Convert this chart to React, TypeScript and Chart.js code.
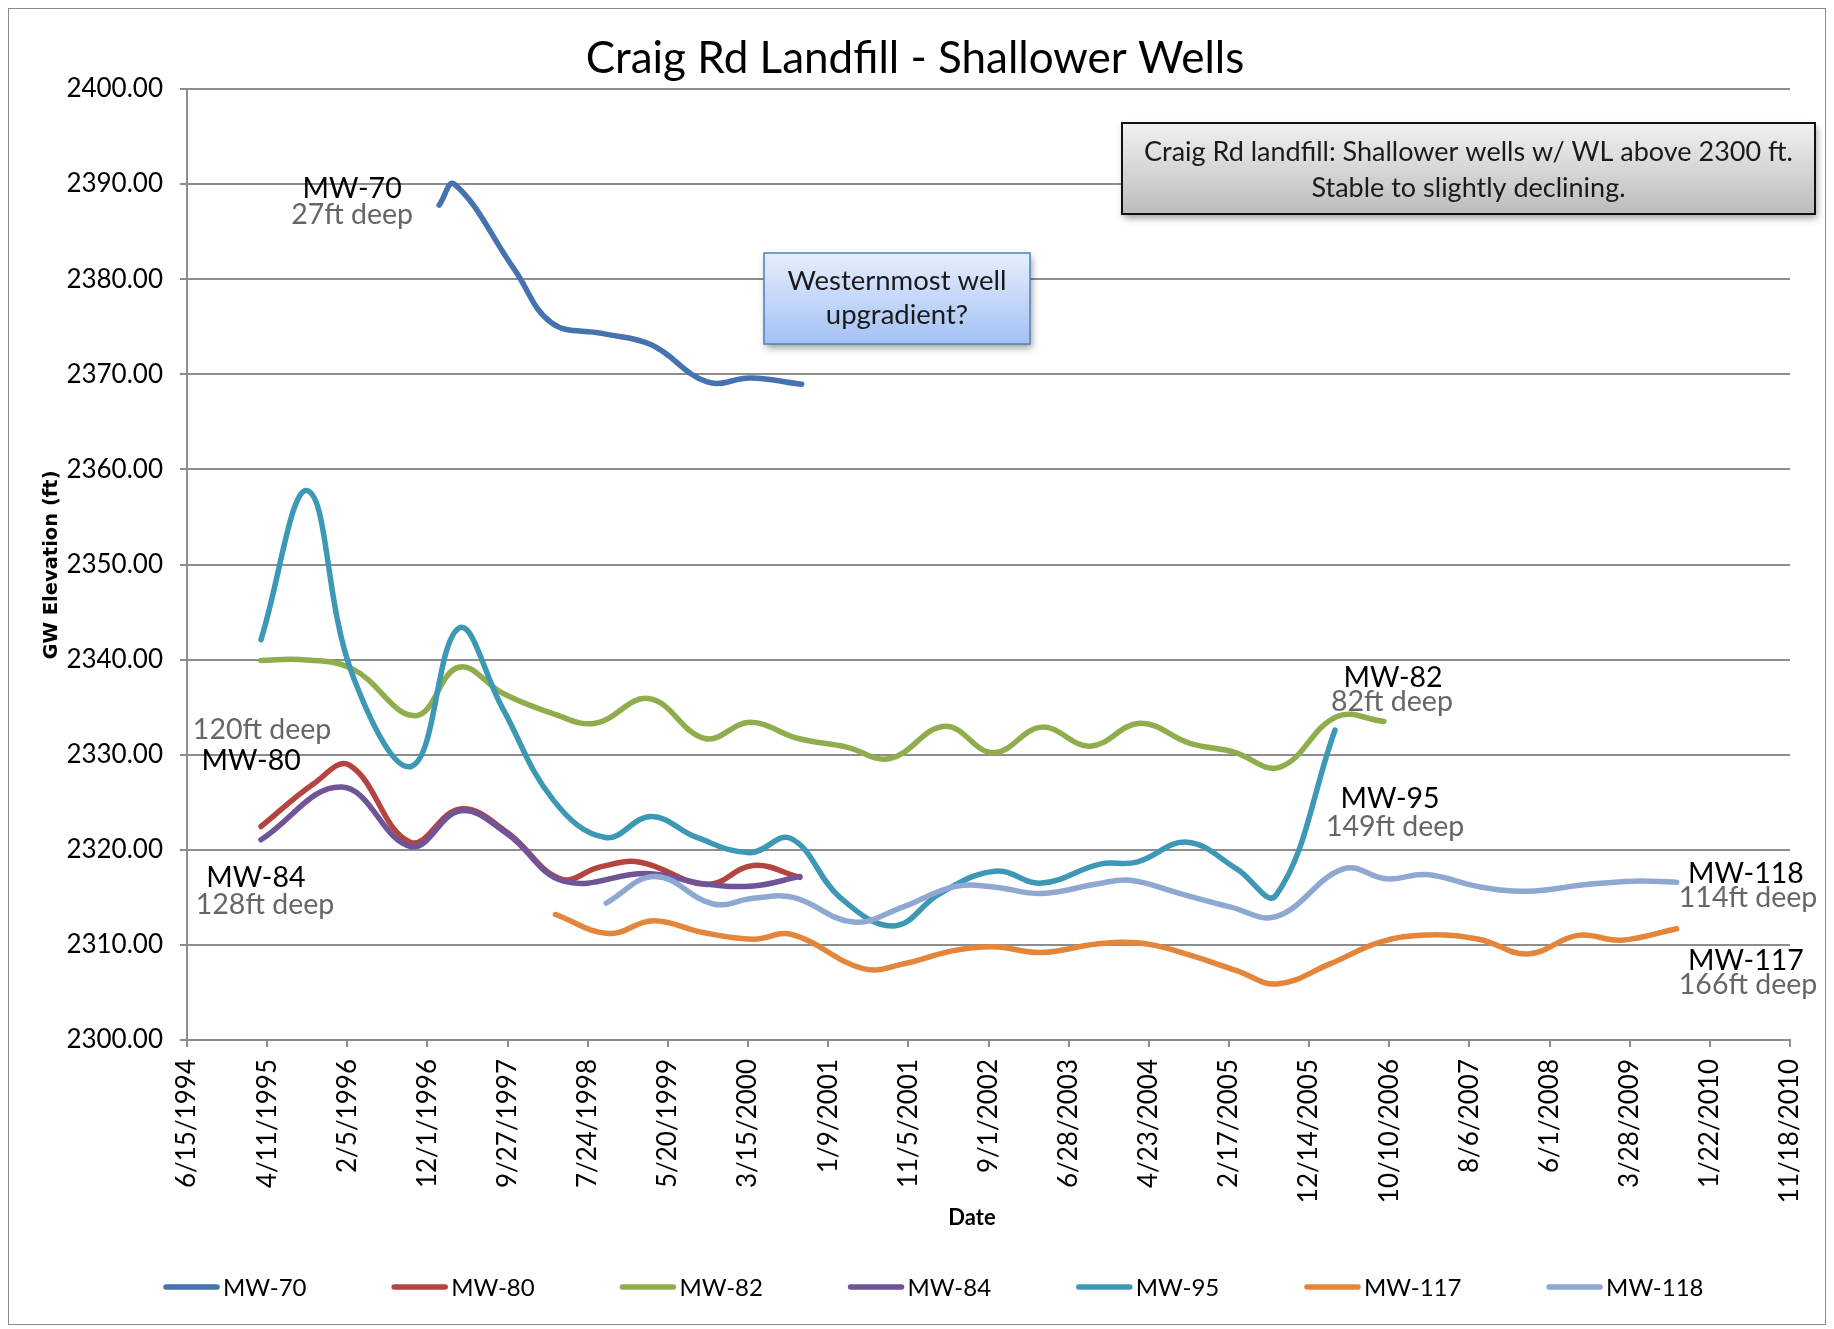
import React, { useEffect, useRef } from 'react';
import { Chart, registerables } from 'chart.js';

Chart.register(...registerables);

// ---------- Data ----------
const SERIES_NAMES = ['MW-70', 'MW-80', 'MW-82', 'MW-84', 'MW-95', 'MW-117', 'MW-118'];
const SERIES_COLORS = ['#4673B0', '#B4443F', '#8FAD4C', '#6F5497', '#3C98B4', '#E3853B', '#8EA8D2'];

const MW70_DATES = ['1997-01-14', '1997-03-12', '1997-10-23', '1998-03-11', '1998-09-15', '1999-03-19', '1999-10-14', '2000-03-25', '2000-10-02'];
const MW70_VALUES = [2387.8, 2390.0, 2381.0, 2375.4, 2374.3, 2373.1, 2369.2, 2369.6, 2368.95];

const MW80_DATES = ['1995-03-19', '1995-10-02', '1996-02-13', '1996-09-28', '1997-04-03', '1997-09-25', '1998-04-12', '1998-09-09', '1999-02-05', '1999-10-12', '2000-04-04', '2000-09-25'];
const MW80_VALUES = [2322.45, 2326.95, 2328.9, 2320.8, 2324.3, 2321.85, 2316.95, 2318.2, 2318.7, 2316.35, 2318.35, 2317.1];

const MW82_DATES = ['1995-03-19', '1995-08-13', '1996-02-23', '1996-10-17', '1997-03-28', '1997-09-12', '1998-03-18', '1998-08-21', '1999-03-09', '1999-10-06', '2000-03-22', '2000-09-19', '2001-03-19', '2001-08-28', '2002-03-22', '2002-09-19', '2003-03-19', '2003-09-16', '2004-03-22', '2004-09-24', '2005-03-05', '2005-08-27', '2006-03-27', '2006-09-20'];
const MW82_VALUES = [2339.9, 2340.0, 2339.05, 2334.1, 2339.2, 2336.4, 2334.3, 2333.3, 2335.9, 2331.7, 2333.4, 2331.7, 2330.8, 2329.6, 2333.0, 2330.2, 2332.9, 2330.9, 2333.3, 2331.2, 2330.3, 2328.7, 2334.0, 2333.5];

const MW84_DATES = ['1995-03-19', '1996-01-16', '1996-09-30', '1997-04-03', '1997-09-25', '1998-04-25', '1999-03-02', '1999-10-10', '2000-04-04', '2000-09-25'];
const MW84_VALUES = [2321.05, 2326.6, 2320.35, 2324.1, 2321.7, 2316.7, 2317.5, 2316.4, 2316.2, 2317.2];

const MW95_DATES = ['1995-03-19', '1995-09-10', '1996-02-23', '1996-10-04', '1997-03-28', '1997-09-06', '1998-03-18', '1998-09-28', '1999-03-18', '1999-09-05', '2000-03-22', '2000-08-22', '2001-02-22', '2001-09-12', '2002-03-03', '2002-09-25', '2003-03-19', '2003-10-23', '2004-03-09', '2004-09-12', '2005-03-18', '2005-08-12', '2006-03-21'];
const MW95_VALUES = [2342.1, 2357.75, 2338.5, 2328.8, 2343.3, 2335.0, 2325.2, 2321.3, 2323.5, 2321.3, 2319.7, 2321.2, 2315.0, 2312.0, 2315.4, 2317.75, 2316.5, 2318.5, 2318.7, 2320.8, 2318.0, 2315.2, 2332.6];

const MW117_DATES = ['1998-03-25', '1998-10-10', '1999-03-26', '1999-09-29', '2000-04-04', '2000-08-25', '2001-05-20', '2001-10-17', '2002-04-22', '2002-09-19', '2003-03-19', '2003-10-11', '2004-03-22', '2004-08-18', '2005-03-18', '2005-08-15', '2006-03-02', '2006-09-06', '2007-03-01', '2007-09-10', '2008-03-11', '2008-09-15', '2009-02-25', '2009-09-20'];
const MW117_VALUES = [2313.2, 2311.2, 2312.55, 2311.3, 2310.6, 2311.1, 2307.5, 2308.0, 2309.4, 2309.8, 2309.2, 2310.1, 2310.2, 2309.25, 2307.3, 2305.9, 2308.0, 2310.3, 2311.05, 2310.6, 2309.05, 2311.0, 2310.5, 2311.7];

const MW118_DATES = ['1998-10-01', '1999-04-02', '1999-11-06', '2000-04-04', '2000-08-31', '2001-04-13', '2001-10-17', '2002-04-22', '2002-09-19', '2003-03-19', '2003-10-11', '2004-02-13', '2004-08-18', '2005-02-21', '2005-08-15', '2006-04-21', '2006-10-01', '2007-02-27', '2007-09-15', '2008-03-08', '2008-10-18', '2009-04-11', '2009-09-20'];
const MW118_VALUES = [2314.4, 2317.2, 2314.3, 2314.9, 2315.0, 2312.4, 2314.0, 2316.1, 2316.1, 2315.4, 2316.4, 2316.8, 2315.4, 2314.0, 2313.0, 2318.0, 2316.95, 2317.4, 2316.1, 2315.65, 2316.35, 2316.7, 2316.6];

const SERIES_DATES = [MW70_DATES, MW80_DATES, MW82_DATES, MW84_DATES, MW95_DATES, MW117_DATES, MW118_DATES];
const SERIES_VALUES = [MW70_VALUES, MW80_VALUES, MW82_VALUES, MW84_VALUES, MW95_VALUES, MW117_VALUES, MW118_VALUES];

// axes
const X_START = '1994-06-15';
const X_END = '2010-11-18';
const X_STEP_DAYS = 300;
const Y_MIN = 2300;
const Y_MAX = 2400;
const Y_STEP = 10;

const TITLE = 'Craig Rd Landfill - Shallower Wells';
const Y_TITLE = 'GW Elevation (ft)';
const X_TITLE = 'Date';

// well labels anchored in data space (date, value at text baseline)
const LABEL_TEXTS = ['MW-70', '27ft deep', '120ft deep', 'MW-80', 'MW-84', '128ft deep', 'MW-82', '82ft deep', 'MW-95', '149ft deep', 'MW-118', '114ft deep', 'MW-117', '166ft deep'];
const LABEL_DATES = ['1996-02-23', '1996-02-23', '1995-03-23', '1995-02-10', '1995-02-28', '1995-04-03', '2006-10-24', '2006-10-20', '2006-10-13', '2006-11-01', '2010-06-06', '2010-06-14', '2010-06-06', '2010-06-14'];
const LABEL_VALUES = [2388.56, 2385.8, 2331.6, 2328.35, 2316.14, 2313.3, 2337.08, 2334.55, 2324.35, 2321.5, 2316.56, 2313.95, 2307.4, 2304.8];
const LABEL_IS_DEPTH = [false, true, true, false, false, true, false, true, false, true, false, true, false, true];

const NOTE_GRAY = ['Craig Rd landfill: Shallower wells w/ WL above 2300 ft.', 'Stable to slightly declining.'];
const NOTE_BLUE = ['Westernmost well', 'upgradient?'];

// ---------- helpers ----------
const DAY = 86400000;
const toDay = (s: string) => Math.round(Date.parse(s + 'T00:00:00Z') / DAY);
const fmtDay = (v: number) => {
  const d = new Date(Math.round(v) * DAY);
  return `${d.getUTCMonth() + 1}/${d.getUTCDate()}/${d.getUTCFullYear()}`;
};

const LATO = 'Lato, "Noto Sans", sans-serif';
const GRID = '#8d8d8d';

const W = 1816;
const H = 1315;
const LINE_W = 5.5;

function drawCallout(
  ctx: CanvasRenderingContext2D,
  x: number, y: number, w: number, h: number,
  top: string, bottom: string, border: string, bw: number,
  lines: string[], baselines: number[], font: string, color: string
) {
  ctx.save();
  ctx.shadowColor = 'rgba(0,0,0,0.38)';
  ctx.shadowBlur = 7;
  ctx.shadowOffsetX = 2;
  ctx.shadowOffsetY = 4;
  const g = ctx.createLinearGradient(0, y, 0, y + h);
  g.addColorStop(0, top);
  g.addColorStop(1, bottom);
  ctx.fillStyle = g;
  ctx.fillRect(x, y, w, h);
  ctx.restore();
  ctx.save();
  ctx.strokeStyle = border;
  ctx.lineWidth = bw;
  ctx.strokeRect(x, y, w, h);
  ctx.fillStyle = color;
  ctx.font = font;
  ctx.textAlign = 'center';
  ctx.textBaseline = 'alphabetic';
  lines.forEach((t, i) => ctx.fillText(t, x + w / 2, baselines[i]));
  ctx.restore();
}

const overlayPlugin = {
  id: 'overlay',
  afterDraw(chart: any) {
    const ctx: CanvasRenderingContext2D = chart.ctx;
    const xs = chart.scales.x;
    const ys = chart.scales.y;
    ctx.save();

    // title
    ctx.fillStyle = '#000';
    ctx.textAlign = 'center';
    ctx.textBaseline = 'alphabetic';
    ctx.font = `44px ${LATO}`;
    ctx.fillText(TITLE, 906, 64);

    // y axis title
    ctx.save();
    ctx.translate(43, 556);
    ctx.rotate(-Math.PI / 2);
    ctx.font = `bold 19.5px "DejaVu Sans", sans-serif`;
    ctx.textBaseline = 'middle';
    ctx.fillText(Y_TITLE, 0, 0);
    ctx.restore();

    // x axis title
    ctx.font = `bold 22px ${LATO}`;
    ctx.fillText(X_TITLE, 963, 1216);

    // legend
    ctx.font = `24px ${LATO}`;
    ctx.textAlign = 'left';
    let lx = 155;
    chart.data.datasets.forEach((ds: any) => {
      ctx.strokeStyle = ds.borderColor;
      ctx.lineWidth = LINE_W;
      ctx.lineCap = 'round';
      ctx.beginPath();
      ctx.moveTo(lx + 2, 1278);
      ctx.lineTo(lx + 53, 1278);
      ctx.stroke();
      ctx.fillStyle = '#000';
      ctx.fillText(ds.label, lx + 59, 1287);
      lx += 59 + ctx.measureText(ds.label).width + 85.7;
    });

    // well labels
    ctx.textAlign = 'center';
    ctx.font = `28.5px ${LATO}`;
    LABEL_TEXTS.forEach((t, i) => {
      const px = xs.getPixelForValue(toDay(LABEL_DATES[i]));
      const py = ys.getPixelForValue(LABEL_VALUES[i]);
      ctx.fillStyle = LABEL_IS_DEPTH[i] ? '#666666' : '#000000';
      ctx.fillText(t, px, py);
    });

    // callouts
    drawCallout(ctx, 1113, 114, 693, 91, '#f1f1f1', '#bcbcbc', '#111', 2,
      NOTE_GRAY, [152, 188], `27px ${LATO}`, '#1a1a1a');
    drawCallout(ctx, 755, 244, 266, 91, '#e6eefc', '#a3c1f4', '#4f80c0', 1.5,
      NOTE_BLUE, [281, 315], `27.5px ${LATO}`, '#1a1a1a');

    ctx.restore();
  },
};

export default function App() {
  const ref = useRef<HTMLCanvasElement | null>(null);

  useEffect(() => {
    document.documentElement.style.overflow = 'hidden';
    document.body.style.overflow = 'hidden';
    if (!ref.current) return;
    const datasets = SERIES_NAMES.map((name, i) => ({
      label: name,
      data: SERIES_DATES[i].map((d, j) => ({ x: toDay(d), y: SERIES_VALUES[i][j] })),
      borderColor: SERIES_COLORS[i],
      backgroundColor: SERIES_COLORS[i],
      borderWidth: LINE_W,
      borderCapStyle: 'round' as const,
      borderJoinStyle: 'round' as const,
      pointRadius: 0,
      pointHoverRadius: 0,
      tension: 0.4,
      fill: false,
      order: SERIES_NAMES.length - i,
    }));

    const chart = new Chart(ref.current, {
      type: 'line',
      data: { datasets },
      options: {
        animation: false,
        responsive: false,
        maintainAspectRatio: false,
        devicePixelRatio: 1,
        parsing: false as any,
        layout: { padding: { left: 0, right: 35, top: 80, bottom: 0 } },
        plugins: {
          legend: { display: false },
          title: { display: false },
          tooltip: { enabled: false },
        },
        scales: {
          x: {
            type: 'linear',
            min: toDay(X_START),
            max: toDay(X_END),
            afterFit: (s: any) => {
              s.height = H - 80 - 951;
              s.paddingLeft = 0;
              s.paddingRight = 0;
            },
            ticks: {
              stepSize: X_STEP_DAYS,
              autoSkip: false,
              minRotation: 90,
              maxRotation: 90,
              padding: 12,
              color: '#000',
              font: { family: LATO, size: 26 },
              callback: (v: any) => fmtDay(Number(v)),
            },
            grid: {
              drawOnChartArea: false,
              drawTicks: true,
              tickLength: 7,
              color: GRID,
              lineWidth: 2,
            },
            border: { display: true, color: GRID, width: 2 },
          },
          y: {
            type: 'linear',
            min: Y_MIN,
            max: Y_MAX,
            afterFit: (s: any) => {
              s.width = 178;
              s.paddingTop = 0;
              s.paddingBottom = 0;
            },
            ticks: {
              stepSize: Y_STEP,
              padding: 17,
              color: '#000',
              font: { family: LATO, size: 26 },
              callback: (v: any) => Number(v).toFixed(2),
            },
            grid: {
              drawTicks: true,
              tickLength: 7,
              color: GRID,
              lineWidth: 2,
            },
            border: { display: true, color: GRID, width: 2 },
          },
        },
      },
      plugins: [overlayPlugin],
    });
    return () => chart.destroy();
  }, []);

  return (
    <div style={{ border: '1px solid #8a8a8a', width: W, height: H, background: '#fff' }}>
      <canvas ref={ref} width={W} height={H} style={{ display: 'block', width: W, height: H }} />
    </div>
  );
}
